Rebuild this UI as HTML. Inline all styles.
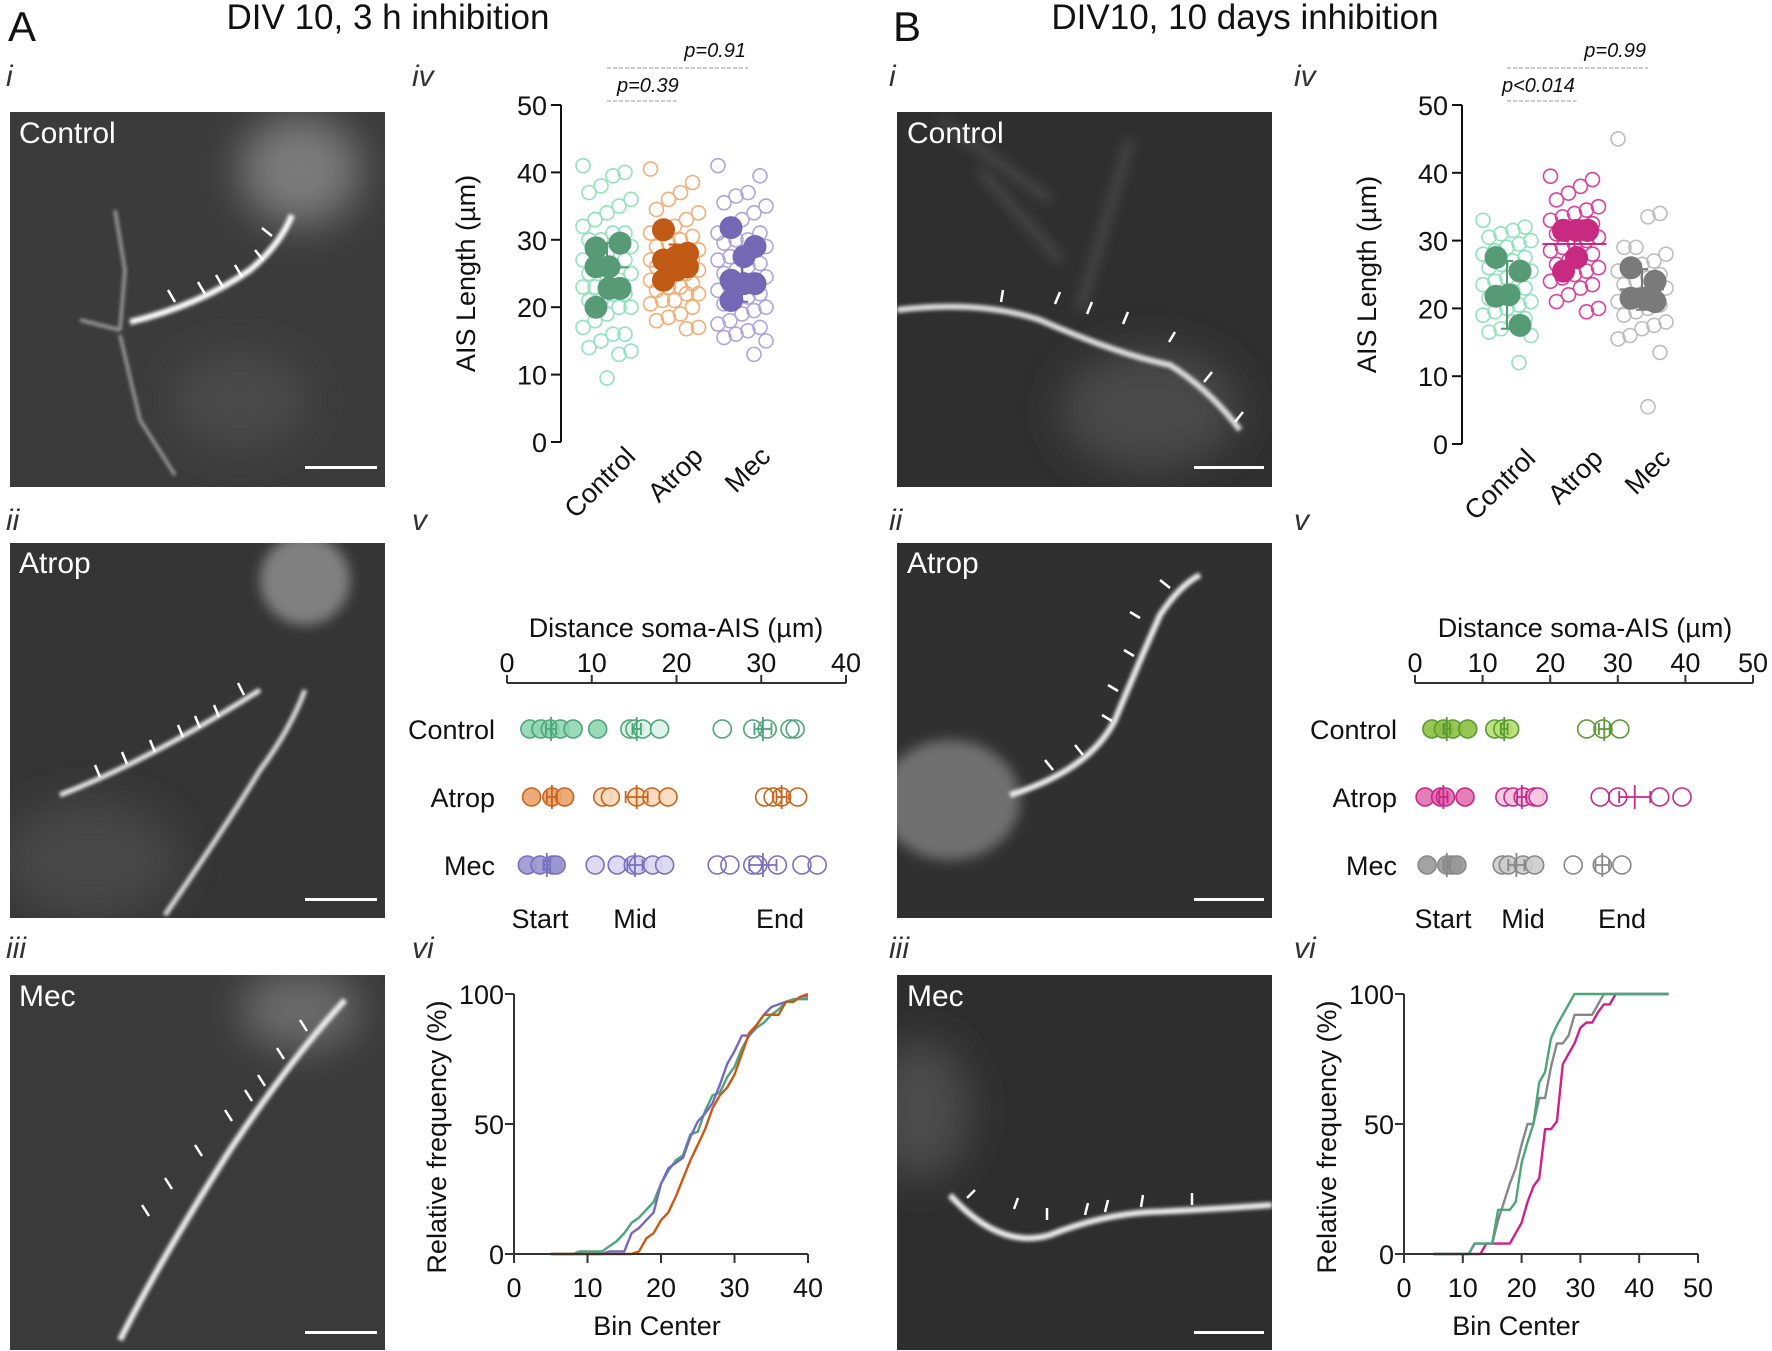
<!DOCTYPE html>
<html><head><meta charset="utf-8"><style>
html,body{margin:0;padding:0;background:#fff}
svg{display:block;font-family:"Liberation Sans",sans-serif}
</style></head><body>
<svg id="fig" width="1772" height="1351" viewBox="0 0 1772 1351" xmlns="http://www.w3.org/2000/svg">
<defs>
<filter id="blur6" x="-50%" y="-50%" width="200%" height="200%"><feGaussianBlur stdDeviation="6"/></filter>
<filter id="blur20" x="-50%" y="-50%" width="200%" height="200%"><feGaussianBlur stdDeviation="20"/></filter>
<filter id="blur2" x="-50%" y="-50%" width="200%" height="200%"><feGaussianBlur stdDeviation="1.8"/></filter>
<clipPath id="cAi"><rect x="10" y="112" width="375" height="375"/></clipPath>
<clipPath id="cAii"><rect x="10" y="543" width="375" height="375"/></clipPath>
<clipPath id="cAiii"><rect x="10" y="975" width="375" height="375"/></clipPath>
<clipPath id="cBi"><rect x="897" y="112" width="375" height="375"/></clipPath>
<clipPath id="cBii"><rect x="897" y="543" width="375" height="375"/></clipPath>
<clipPath id="cBiii"><rect x="897" y="975" width="375" height="375"/></clipPath>
</defs>

<text x="8" y="41" font-size="42" fill="#111">A</text>
<text x="388" y="29" font-size="35" text-anchor="middle" fill="#111">DIV 10, 3 h inhibition</text>
<text x="893" y="41" font-size="42" fill="#111">B</text>
<text x="1245" y="29" font-size="35" text-anchor="middle" fill="#111">DIV10, 10 days inhibition</text>

<g font-style="italic" font-size="30" fill="#333">
<text x="6" y="86">i</text>
<text x="412" y="86">iv</text>
<text x="6" y="530">ii</text>
<text x="412" y="530">v</text>
<text x="6" y="958">iii</text>
<text x="412" y="958">vi</text>
<text x="889" y="86">i</text>
<text x="1294" y="86">iv</text>
<text x="889" y="530">ii</text>
<text x="1294" y="530">v</text>
<text x="889" y="958">iii</text>
<text x="1294" y="958">vi</text>
</g>

<g clip-path="url(#cAi)">
<rect x="10" y="112" width="375" height="375" fill="#3b3b3b"/>
<ellipse cx="300" cy="170" rx="60" ry="55" fill="#7a7a7a" filter="url(#blur20)"/>
<ellipse cx="240" cy="400" rx="70" ry="50" fill="#4a4a4a" filter="url(#blur20)"/>
<path d="M130 322 Q200 305 250 270 Q280 245 292 215" stroke="#fff" stroke-width="6" fill="none" filter="url(#blur2)"/>
<path d="M120 330 L125 270 L115 210 M120 330 L80 320 M120 335 L140 420 L175 475" stroke="#aaa" stroke-width="3" fill="none" filter="url(#blur2)"/>
<g stroke="#fff" stroke-width="2.5" fill="none"><path d="M168 290 l7 12 M198 282 l7 12 M216 275 l7 12 M235 265 l7 12 M255 250 l8 10 M262 228 l10 8"/></g>
<rect x="305" y="466" width="72" height="3" fill="#fff"/>
</g>
<g clip-path="url(#cAii)">
<rect x="10" y="543" width="375" height="375" fill="#353535"/>
<ellipse cx="305" cy="580" rx="45" ry="45" fill="#808080" filter="url(#blur6)"/>
<ellipse cx="90" cy="860" rx="90" ry="60" fill="#474747" filter="url(#blur20)"/>
<path d="M60 795 Q150 760 260 690" stroke="#eee" stroke-width="5" fill="none" filter="url(#blur2)"/>
<path d="M165 915 Q230 820 260 770 Q290 730 305 690" stroke="#ddd" stroke-width="5" fill="none" filter="url(#blur2)"/>
<g stroke="#fff" stroke-width="2.5" fill="none"><path d="M95 765 l5 12 M122 752 l5 12 M150 740 l5 12 M178 725 l5 12 M195 716 l5 12 M214 705 l5 12 M238 683 l6 12"/></g>
<rect x="305" y="898" width="72" height="3" fill="#fff"/>
</g>
<g clip-path="url(#cAiii)">
<rect x="10" y="975" width="375" height="375" fill="#3a3a3a"/>
<ellipse cx="300" cy="1010" rx="60" ry="40" fill="#6a6a6a" filter="url(#blur20)"/>
<path d="M120 1340 Q160 1260 230 1150 Q290 1060 345 1000" stroke="#eee" stroke-width="6" fill="none" filter="url(#blur2)"/>
<g stroke="#fff" stroke-width="2.5" fill="none"><path d="M142 1205 l7 11 M165 1178 l7 11 M195 1145 l7 11 M225 1110 l7 11 M245 1090 l7 11 M258 1075 l7 11 M277 1048 l7 11 M300 1020 l7 11"/></g>
<rect x="305" y="1331" width="72" height="3" fill="#fff"/>
</g>
<g clip-path="url(#cBi)">
<rect x="897" y="112" width="375" height="375" fill="#2f2f2f"/>
<ellipse cx="1150" cy="410" rx="90" ry="60" fill="#4a4a4a" filter="url(#blur20)"/>
<path d="M940 120 L1050 200 M980 170 L1060 260 M1130 140 L1080 310" stroke="#555" stroke-width="6" fill="none" filter="url(#blur6)"/>
<path d="M897 310 Q980 300 1040 320 Q1120 355 1170 365 Q1210 390 1240 430" stroke="#ddd" stroke-width="6" fill="none" filter="url(#blur2)"/>
<g stroke="#fff" stroke-width="2.5" fill="none"><path d="M1003 290 l-2 12 M1060 292 l-5 12 M1092 302 l-5 12 M1128 312 l-5 12 M1175 332 l-6 10 M1212 372 l-8 10 M1243 412 l-8 10"/></g>
<rect x="1194" y="466" width="70" height="3" fill="#fff"/>
</g>
<g clip-path="url(#cBii)">
<rect x="897" y="543" width="375" height="375" fill="#303030"/>
<ellipse cx="950" cy="800" rx="70" ry="60" fill="#707070" filter="url(#blur6)"/>
<path d="M1010 795 Q1090 770 1115 720 Q1140 660 1160 615 Q1180 585 1200 575" stroke="#eee" stroke-width="6" fill="none" filter="url(#blur2)"/>
<g stroke="#fff" stroke-width="2.5" fill="none"><path d="M1045 760 l8 10 M1075 745 l8 10 M1102 715 l10 6 M1108 685 l10 6 M1124 650 l10 6 M1130 612 l10 6 M1160 580 l10 8"/></g>
<rect x="1194" y="898" width="70" height="3" fill="#fff"/>
</g>
<g clip-path="url(#cBiii)">
<rect x="897" y="975" width="375" height="375" fill="#2e2e2e"/>
<ellipse cx="920" cy="1110" rx="50" ry="70" fill="#4c4c4c" filter="url(#blur20)"/>
<path d="M950 1195 Q1000 1250 1050 1235 Q1100 1215 1150 1212 Q1200 1210 1272 1205" stroke="#eee" stroke-width="6" fill="none" filter="url(#blur2)"/>
<g stroke="#fff" stroke-width="2.5" fill="none"><path d="M975 1190 l-8 8 M1018 1198 l-4 11 M1047 1208 l0 12 M1088 1203 l-3 12 M1108 1200 l-3 12 M1143 1195 l-2 12 M1192 1193 l0 12"/></g>
<rect x="1194" y="1331" width="70" height="3" fill="#fff"/>
</g>
<g font-size="30" fill="#fff">
<text x="19" y="143">Control</text>
<text x="19" y="573">Atrop</text>
<text x="19" y="1006">Mec</text>
<text x="907" y="143">Control</text>
<text x="907" y="573">Atrop</text>
<text x="907" y="1006">Mec</text>
</g>
<g id="charts"></g>
</svg>
<script>
const ivCats = ['Control','Atrop','Mec'];
const ivTicks = [0,10,20,30,40,50];
const A_openControl = [41,40,39.5,38,37,36,35,34,33,32,31,31,30,30,29,29,28,28,27,27,26,26,25,25,24,24,23,23,22,22,21,21,20,20,19,18,17,16,16,15,14,13.5,13,9.5];
const A_openAtrop = [40.5,38.5,37,36,34.5,34,33,32,31.5,31,30.5,30,29.5,29,28.5,28,28,27.5,27,27,26.5,26,26,25.5,25,25,24.5,24,23.5,23,23,22.5,22,22,21,21,20.5,20,19,18.5,18,17,16.8];
const A_openMec = [41,39.5,37,36.5,35.5,35,34,33,32,31,31,30,30,29.5,29,28.5,28,27.5,27,26.5,26,25.5,25,24.5,24,23.5,23,22.5,22,21.5,21,20.5,20,19.5,19,18,17.5,17,16.5,16,15.5,15,13];
const A_fillControl = [28.8,29.5,26,26,22.8,22.8,20];
const A_fillAtrop = [31.5,28,27.5,27,26,25.5,24];
const A_fillMec = [31.8,29,27.5,24,23.5,23.5,21];
const A_means = [25.9,27,24];
const A_sds = [3.6,2.3,3.2];
const B_openControl = [33,32,31.5,31,30.5,30,29.5,29,28.5,28,27.5,27,26.5,26,25.5,25,24.5,24,23.5,23,22.5,22,21.5,21,20.5,20,19.5,19,18.5,18,17,16.5,16,12];
const B_openAtrop = [39.5,39,38,37,36,35,34.5,34,33.5,33,32.5,32,31.5,31,30.5,30,29.5,29,28.5,28,27.5,27,26.5,26,25.5,25,24.5,24,23.5,23,22,21,20,19.5];
const B_openMec = [45,34,33.5,29,29,28,27,26.5,26,25.5,25,24.5,24,23.5,23,22.5,22,21.5,21,20.5,20,19.5,19,18,17.5,17,16,15.5,13.5,5.5];
const B_fillControl = [27.5,25.5,22,21.8,17.5];
const B_fillAtrop = [31.5,31.5,31.5,31.5,31.5,27.5,25.5];
const B_fillMec = [26,24,21.5,21.5,21];
const B_means = [22,29.5,22.8];
const B_sds = [5,2.5,3];

const vRows = ['Control','Atrop','Mec'];
const vGroups = ['Start','Mid','End'];
const A_vTicks = [0,10,20,30,40];
const A_vControl = [[2.7,4,5.1,6.3,7.8,10.7],[14.5,15.1,16,18],[25.4,29,30.7,33.4,34]];
const A_vAtrop = [[2.9,5.3,6.8],[11.3,12.2,15.3,17.1,19],[30.4,31.4,32.4,34.3]];
const A_vMec = [[2.4,3.9,5.4,5.8],[10.4,13,14.9,15.5,17.2,18.6],[24.8,26.3,29,29.6,31.9,34.8,36.6]];
const A_vMeans = [[5.2,15.3,30.2],[5.3,15.3,32.4],[4.7,15.1,30.2]];
const A_vSems = [[0.6,0.5,1.0],[0.6,1.3,0.6],[0.4,0.9,1.6]];
const B_vTicks = [0,10,20,30,40,50];
const B_vControl = [[2.5,4.2,5.6,7.8],[11.8,13,14],[25.4,27.8,30.3]];
const B_vAtrop = [[1.5,3.8,4.5,7.4],[13.3,14.5,16,17.7,18.2],[27.4,30,36.2,39.5]];
const B_vMec = [[1.8,4.7,5.5,6.2],[12.9,13.8,16,17.7],[23.4,27.7,30.6]];
const B_vMeans = [[4.7,13.2,28],[4.2,15.8,32.5],[4.7,15,27.7]];
const B_vSems = [[0.5,0.5,0.8],[0.6,0.7,2.3],[0.5,1.2,1.0]];

const A_viBins = [5,6,7,8,9,10,11,12,13,14,15,16,17,18,19,20,21,22,23,24,25,26,27,28,29,30,31,32,33,34,35,36,37,38,39,40];
const A_viControl = [0,0,0,0,1,1,1,1,3,5,8,12,14,17,20,27,32,36,38,46,47,55,61,62,68,72,79,84,87,89,92,94,97,98,98,98];
const A_viMec = [0,0,0,0,0,0,0,0,1,1,1,8,10,13,16,27,33,35,37,45,51,54,58,65,73,78,84,84,88,92,95,96,97,97,99,99];
const A_viAtrop = [0,0,0,0,0,0,0,0,0,0,0,0,1,6,8,13,16,22,29,36,42,48,56,61,64,69,77,85,88,92,92,92,97,97,99,100];
const A_viXTicks = [0,10,20,30,40];
const viYTicks = [0,50,100];
const B_viBins = [5,6,7,8,9,10,11,12,13,14,15,16,17,18,19,20,21,22,23,24,25,26,27,28,29,30,31,32,33,34,35,36,37,38,39,40,41,42,43,44,45];
const B_viControl = [0,0,0,0,0,0,0,4,4,4,4,17,17,17,20,35,43,50,66,70,83,88,92,96,100,100,100,100,100,100,100,100,100,100,100,100,100,100,100,100,100];
const B_viMec = [0,0,0,0,0,0,0,4,4,4,4,13,20,27,33,42,50,50,60,60,72,81,81,84,92,92,92,92,96,100,100,100,100,100,100,100,100,100,100,100,100];
const B_viAtrop = [0,0,0,0,0,0,0,0,0,4,4,4,4,4,8,12,20,26,29,48,48,51,73,77,81,87,89,89,93,96,96,100,100,100,100,100,100,100,100,100,100];
const B_viXTicks = [0,10,20,30,40,50];

const NS='http://www.w3.org/2000/svg';
const root=document.getElementById('charts');
function mk(tag, attrs, parent){const e=document.createElementNS(NS,tag);for(const k in attrs)e.setAttribute(k,attrs[k]);(parent||root).appendChild(e);return e;}
function txt(s, attrs, parent){const e=mk('text',attrs,parent);e.textContent=s;return e;}
const FS=27;

function drawIv(o){
  const g=mk('g',{});
  
  
  const y=v=>o.y0-v*(o.y0-o.y50)/50;
  const cx=i=>o.cat0+i*67.5;
  const ax=mk('path',{d:`M${o.ax} ${y(50)} V${y(0)}`,stroke:'#111','stroke-width':2,fill:'none'},g);
  
  
  ivTicks.forEach(t=>{
    mk('line',{x1:o.ax-10,x2:o.ax,y1:y(t),y2:y(t),stroke:'#111','stroke-width':2},g);
    const tl=txt(String(t),{x:o.ax-14,y:y(t)+10,'font-size':FS,'text-anchor':'end',fill:'#111'},g);
    
    
  });
  const yt=txt('AIS Length (µm)',{x:0,y:0,'font-size':FS,'text-anchor':'middle',fill:'#111',transform:`translate(${o.ax-86},${y(25)}) rotate(-90)`},g);
  
  
  ivCats.forEach((c,i)=>{
    const cl=txt(c,{x:0,y:0,'font-size':FS,'text-anchor':'end',fill:'#111',transform:`translate(${cx(i)+30},${o.y0+16}) rotate(-45)`},g);
    
    
  });
  o.open.forEach((arr,i)=>{
    arr.forEach((v,j)=>{
      const off=((j*7)%9-4)*6;
      const c=mk('circle',{cx:cx(i)+off,cy:y(v),r:7,fill:'none',stroke:o.openCol[i],'stroke-width':1.6},g);
      
      
    });
  });
  o.fill.forEach((arr,i)=>{
    arr.forEach((v,j)=>{
      const off=(j%3===0?-11:(j%3===1?13:2));
      const c=mk('circle',{cx:cx(i)+off,cy:y(v),r:11.5,fill:o.fillCol[i],stroke:'none'},g);
      
      
    });
  });
  o.means.forEach((m,i)=>{
    const sd=o.sds[i], w=o.mw[i];
    const p=mk('path',{d:`M${cx(i)-w} ${y(m)} H${cx(i)+w} M${cx(i)} ${y(m-sd)} V${y(m+sd)} M${cx(i)-6} ${y(m-sd)} H${cx(i)+6} M${cx(i)-6} ${y(m+sd)} H${cx(i)+6}`,stroke:o.fillCol[i],'stroke-width':2,fill:'none'},g);
    
    
  });
  const d1=mk('line',{x1:cx(0),x2:cx(2)+6,y1:68,y2:68,stroke:'#bbb','stroke-width':1.6,'stroke-dasharray':'4 2'},g);
  
  
  const d2=mk('line',{x1:cx(0),x2:cx(1)+2,y1:101,y2:101,stroke:'#bbb','stroke-width':1.6,'stroke-dasharray':'4 2'},g);
  
  
  const p1=txt(o.p1,{x:cx(2)+4,y:57,'font-size':20,'font-style':'italic','text-anchor':'end',fill:'#111'},g);
  
  
  const p2=txt(o.p2,{x:cx(0)+(o.p2x||10),y:92,'font-size':20,'font-style':'italic',fill:'#111'},g);
  
  
}
drawIv({name:'chart-a-iv',ax:561,y0:442,y50:105,cat0:607,open:[A_openControl,A_openAtrop,A_openMec],fill:[A_fillControl,A_fillAtrop,A_fillMec],
  openCol:['#8fe3bd','#f5ad74','#ada5de'],fillCol:['#579a76','#c05a15','#7468b5'],means:A_means,sds:A_sds,mw:[22,14,22],p1:'p=0.91',p2:'p=0.39',p2x:10});
drawIv({name:'chart-b-iv',ax:1462,y0:444,y50:105,cat0:1507,open:[B_openControl,B_openAtrop,B_openMec],fill:[B_fillControl,B_fillAtrop,B_fillMec],
  openCol:['#8fe3bd','#dc3f9c','#bdbdbd'],fillCol:['#579a76','#c82a82','#7a7a7a'],means:B_means,sds:B_sds,mw:[10,32,22],p1:'p=0.99',p2:'p<0.014',p2x:-5});

function drawV(o){
  const g=mk('g',{});
  
  
  const x=v=>o.x0+v*(o.xMax-o.x0)/o.max;
  const ry=i=>729+i*68;
  const ax=mk('path',{d:`M${x(0)} 683 H${x(o.max)}`,stroke:'#333','stroke-width':2,fill:'none'},g);
  
  
  o.ticks.forEach(t=>{
    mk('line',{x1:x(t),x2:x(t),y1:675,y2:683,stroke:'#333','stroke-width':2},g);
    const tl=txt(String(t),{x:x(t),y:672,'font-size':FS,'text-anchor':'middle',fill:'#111'},g);
    
    
  });
  const tt=txt('Distance soma-AIS (µm)',{x:o.titleX,y:637,'font-size':27,'text-anchor':'middle',fill:'#111'},g);
  
  
  vRows.forEach((r,i)=>{
    const rl=txt(r,{x:o.labelX,y:ry(i)+10,'font-size':FS,'text-anchor':'end',fill:'#111'},g);
    
    
    o.data[i].forEach((arr,k)=>{
      arr.forEach(v=>{
        const c=mk('circle',{cx:x(v),cy:ry(i),r:9,fill:o.fills[i][k],stroke:o.strokes[i],'stroke-width':1.6,'fill-opacity':k===2?0:0.9},g);
        
        
      });
      const m=o.means[i][k], s=o.sems[i][k];
      const p=mk('path',{d:`M${x(m)} ${ry(i)-12} V${ry(i)+12} M${x(m-s)} ${ry(i)} H${x(m+s)} M${x(m-s)} ${ry(i)-6} V${ry(i)+6} M${x(m+s)} ${ry(i)-6} V${ry(i)+6}`,stroke:o.strokes[i],'stroke-width':1.8,fill:'none'},g);
      
      
    });
  });
  vGroups.forEach((gname,k)=>{
    const gl=txt(gname,{x:o.groupX[k],y:928,'font-size':FS,'text-anchor':'middle',fill:'#111'},g);
    
    
  });
}
drawV({name:'chart-a-v',x0:507,xMax:846,max:40,ticks:A_vTicks,titleX:676,labelX:495,groupX:[540,635,780],
  data:[A_vControl,A_vAtrop,A_vMec],means:A_vMeans,sems:A_vSems,
  fills:[['#8fd6b0','#daf3e7','none'],['#eba26a','#fbd9bd','none'],['#9c96d0','#d9d6ef','none']],strokes:['#4da57a','#c8641e','#7a70c0']});
drawV({name:'chart-b-v',x0:1415,xMax:1753,max:50,ticks:B_vTicks,titleX:1585,labelX:1397,groupX:[1443,1523,1622],
  data:[B_vControl,B_vAtrop,B_vMec],means:B_vMeans,sems:B_vSems,
  fills:[['#8cc040','#b6e070','none'],['#e070b0','#f4c8e0','none'],['#999999','#cccccc','none']],strokes:['#5a9a35','#c8288a','#888888']});

function drawVi(o){
  const g=mk('g',{});
  
  
  const x=v=>o.x0+v*(o.xMax-o.x0)/o.max;
  const y=v=>1254-v*2.6;
  o.series.forEach((s,i)=>{
    const d=o.bins.map((b,j)=>(j?'L':'M')+x(b).toFixed(1)+' '+y(s[j]).toFixed(1)).join(' ');
    const p=mk('path',{d:d,stroke:o.cols[i],'stroke-width':2.4,fill:'none','stroke-linejoin':'round'},g);
    
    
  });
  const ax=mk('path',{d:`M${x(0)} ${y(100)} V${y(0)} H${x(o.max)}`,stroke:'#333','stroke-width':2,fill:'none'},g);
  
  
  o.xticks.forEach(t=>{
    mk('line',{x1:x(t),x2:x(t),y1:y(0),y2:y(0)+9,stroke:'#333','stroke-width':2},g);
    const tl=txt(String(t),{x:x(t),y:1297,'font-size':FS,'text-anchor':'middle',fill:'#111'},g);
    
    
  });
  viYTicks.forEach(t=>{
    mk('line',{x1:x(0)-9,x2:x(0),y1:y(t),y2:y(t),stroke:'#333','stroke-width':2},g);
    const tl=txt(String(t),{x:x(0)-10,y:y(t)+10,'font-size':FS,'text-anchor':'end',fill:'#111'},g);
    
    
  });
  const xt=txt('Bin Center',{x:x(o.max*0.5)+(o.max===40?-4:-35),y:1335,'font-size':FS,'text-anchor':'middle',fill:'#111'},g);
  
  
  const yt=txt('Relative frequency (%)',{x:0,y:0,'font-size':FS,'text-anchor':'middle',fill:'#111',transform:`translate(${x(0)-68},${y(45)}) rotate(-90)`},g);
  
  
}
drawVi({name:'chart-a-vi',x0:514,xMax:808,max:40,bins:A_viBins,series:[A_viControl,A_viMec,A_viAtrop],cols:['#4da57a','#7468c4','#c85a15'],names:['control','mec','atrop'],xticks:A_viXTicks});
drawVi({name:'chart-b-vi',x0:1404,xMax:1698,max:50,bins:B_viBins,series:[B_viAtrop,B_viMec,B_viControl],cols:['#d0208a','#888888','#4da57a'],names:['atrop','mec','control'],xticks:B_viXTicks});
</script>
</body></html>
